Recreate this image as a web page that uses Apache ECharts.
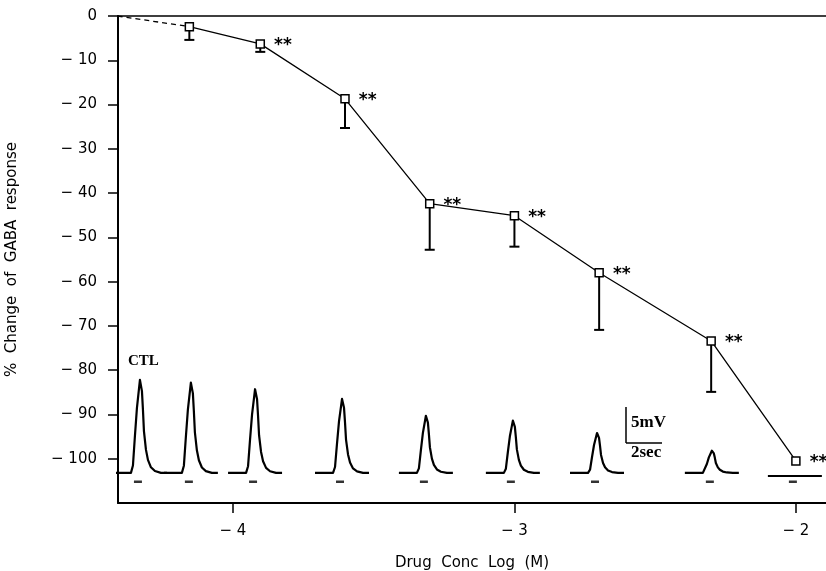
<!DOCTYPE html>
<html>
<head>
<meta charset="utf-8">
<script src="https://cdn.jsdelivr.net/npm/echarts@6/dist/echarts.min.js"></script>
<style>
  html, body { margin: 0; padding: 0; background: #fff; }
  #chart { width: 826px; height: 571px; }
</style>
</head>
<body>
<div id="chart"></div>
<script>
// log concentration of drug (M)
var conc = [-4.155, -3.903, -3.602, -3.301, -3.0, -2.699, -2.301, -2.0]
// % change of GABA response (mean) and error (down only)
var meanChange = [-2.4, -6.3, -18.7, -42.4, -45.1, -58.0, -73.4, -100.5]
var sem = [3.0, 1.8, 6.6, 10.4, 7.0, 12.9, 11.5, 0]
var signif = ['', '**', '**', '**', '**', '**', '**', '**']
// control point, start of the dashed segment
var ctlPoint = [-4.41, 0]

var yTicks = [0, -10, -20, -30, -40, -50, -60, -70, -80, -90, -100]
var xTicks = [-4, -3, -2]

// inset voltage traces: position (log M), peak and baseline (in y units)
var traceX = [-4.327, -4.146, -3.918, -3.609, -3.311, -3.002, -2.703, -2.295, -2.0]
var tracePeak = [-82.2, -82.8, -84.3, -86.5, -90.3, -91.4, -94.2, -98.2, -103.9]
var traceBase = [-103.2, -103.2, -103.2, -103.2, -103.2, -103.2, -103.2, -103.2, -103.9]
var dashY = -105.2

// shape of one trace: [offset in px, fraction of peak height]
var traceShape = [[-28, 0], [-10, 0], [-8, 0.08], [-6, 0.4], [-4, 0.7], [-2, 0.9], [-1, 1], [0, 1],
  [1, 0.88], [2, 0.68], [3, 0.45], [5, 0.25], [7, 0.14], [10, 0.06], [14, 0.02], [20, 0], [26, 0]]

var xMin = -4.4085
var xMax = -1.893
var pxPerUnit = 281.5

var fontSans = 'DejaVu Sans'
var fontSerif = 'Liberation Serif'

function minusFmt(v) {
  return v < 0 ? '\u2212 ' + Math.abs(v) : String(v)
}

var mainData = conc.map(function (x, i) { return [x, meanChange[i]] })
var errData = []
conc.forEach(function (x, i) {
  if (sem[i] > 0) errData.push([x, meanChange[i], meanChange[i] - sem[i]])
})

// trace series
var traceSeries = traceX.map(function (cx, i) {
  var pts = traceShape.map(function (s) {
    return [cx + s[0] / pxPerUnit, traceBase[i] + s[1] * (tracePeak[i] - traceBase[i])]
  })
  return {
    type: 'line',
    data: pts,
    symbol: 'none',
    lineStyle: { color: '#000', width: 2.2, join: 'round' },
    z: 1,
    silent: true
  }
})

var dashData = traceX.map(function (cx) { return [cx - 3 / pxPerUnit, dashY] })

var chart = echarts.init(document.getElementById('chart'))
var option = {
  animation: false,
  backgroundColor: '#fff',
  grid: {
    left: 118,
    right: 0,
    top: 16,
    bottom: 68,
    outerBoundsMode: 'none'
  },
  xAxis: [
    {
      type: 'value',
      position: 'bottom',
      min: xMin,
      max: xMax,
      name: 'Drug  Conc  Log  (M)',
      nameLocation: 'middle',
      nameGap: 53,
      nameTextStyle: { fontFamily: fontSans, fontSize: 15, color: '#000' },
      axisLine: { onZero: false, lineStyle: { color: '#000', width: 2 } },
      axisTick: { show: true, customValues: xTicks, length: 10, lineStyle: { color: '#000', width: 1.5 } },
      axisLabel: {
        customValues: xTicks,
        formatter: minusFmt,
        margin: 21,
        fontFamily: fontSans,
        fontSize: 15,
        color: '#000'
      },
      splitLine: { show: false }
    },
    {
      type: 'value',
      position: 'top',
      min: xMin,
      max: xMax,
      axisLine: { show: true, onZero: false, lineStyle: { color: '#000', width: 1.5 } },
      axisTick: { show: false },
      axisLabel: { show: false },
      splitLine: { show: false }
    }
  ],
  yAxis: {
    type: 'value',
    min: -110,
    max: 0,
    name: '%  Change  of  GABA  response',
    nameLocation: 'middle',
    nameGap: 98,
    nameRotate: 90,
    nameTextStyle: { fontFamily: fontSans, fontSize: 15, color: '#000' },
    axisLine: { show: true, onZero: false, lineStyle: { color: '#000', width: 2 } },
    axisTick: { show: true, customValues: yTicks, length: 10, lineStyle: { color: '#000', width: 1.5 } },
    axisLabel: {
      customValues: yTicks,
      formatter: minusFmt,
      margin: 21,
      fontFamily: fontSans,
      fontSize: 15,
      color: '#000'
    },
    splitLine: { show: false }
  },
  graphic: [
    { type: 'text', left: 128, top: 354, style: { text: 'CTL', font: 'bold 15px "' + fontSerif + '"', fill: '#000' } },
    { type: 'line', shape: { x1: 626, y1: 407, x2: 626, y2: 443 }, style: { stroke: '#000', lineWidth: 1.5 } },
    { type: 'line', shape: { x1: 626, y1: 443, x2: 662, y2: 443 }, style: { stroke: '#000', lineWidth: 1.5 } },
    { type: 'text', left: 631, top: 414, style: { text: '5mV', font: 'bold 17px "' + fontSerif + '"', fill: '#000' } },
    { type: 'text', left: 631, top: 444, style: { text: '2sec', font: 'bold 17px "' + fontSerif + '"', fill: '#000' } }
  ],
  series: traceSeries.concat([
    {
      type: 'scatter',
      data: dashData,
      symbol: 'rect',
      symbolSize: [8, 2.5],
      itemStyle: { color: '#000' },
      silent: true
    },
    {
      type: 'custom',
      data: errData,
      z: 3,
      renderItem: function (params, api) {
        var p = api.coord([api.value(0), api.value(1)])
        var q = api.coord([api.value(0), api.value(2)])
        return {
          type: 'group',
          children: [
            { type: 'line', shape: { x1: p[0], y1: p[1], x2: q[0], y2: q[1] }, style: { stroke: '#000', lineWidth: 2 } },
            { type: 'line', shape: { x1: q[0] - 5, y1: q[1], x2: q[0] + 5, y2: q[1] }, style: { stroke: '#000', lineWidth: 2 } }
          ]
        }
      }
    },
    {
      type: 'line',
      data: [ctlPoint, mainData[0]],
      symbol: 'none',
      lineStyle: { color: '#000', width: 1.3, type: [5, 4] },
      z: 4
    },
    {
      type: 'line',
      data: mainData,
      symbol: 'rect',
      symbolSize: 8,
      itemStyle: { color: '#fff', borderColor: '#000', borderWidth: 1.5 },
      lineStyle: { color: '#000', width: 1.3 },
      label: {
        show: true,
        position: 'right',
        distance: 9,
        offset: [0, 2],
        formatter: function (p) { return signif[p.dataIndex] },
        fontFamily: fontSans,
        fontSize: 17,
        fontWeight: 'bold',
        color: '#000'
      },
      z: 5
    }
  ])
}
chart.setOption(option)
</script>
</body>
</html>
